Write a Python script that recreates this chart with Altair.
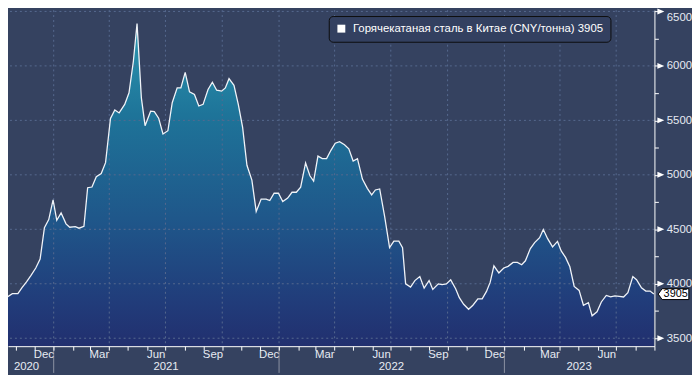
import altair as alt
import pandas as pd

# ---------------- data ----------------
series_name = "Горячекатаная сталь в Китае (CNY/тонна) 3905"

dates = [
    "2020-10-06", "2020-10-12", "2020-10-19", "2020-10-26", "2020-11-04", "2020-11-11",
    "2020-11-18", "2020-11-25", "2020-12-03", "2020-12-10", "2020-12-17", "2020-12-24",
    "2020-12-31", "2021-01-06", "2021-01-13", "2021-01-21", "2021-01-27", "2021-02-05",
    "2021-02-11", "2021-02-19", "2021-02-25", "2021-03-04", "2021-03-11", "2021-03-19",
    "2021-03-26", "2021-04-03", "2021-04-10", "2021-04-17", "2021-04-26", "2021-05-03",
    "2021-05-10", "2021-05-16", "2021-05-23", "2021-05-29", "2021-06-07", "2021-06-13",
    "2021-06-20", "2021-06-27", "2021-07-05", "2021-07-12", "2021-07-20", "2021-07-26",
    "2021-08-02", "2021-08-09", "2021-08-17", "2021-08-24", "2021-08-31", "2021-09-08",
    "2021-09-15", "2021-09-22", "2021-09-30", "2021-10-06", "2021-10-12", "2021-10-20",
    "2021-10-27", "2021-11-03", "2021-11-10", "2021-11-18", "2021-11-25", "2021-12-03",
    "2021-12-11", "2021-12-17", "2021-12-24", "2021-12-31", "2022-01-07", "2022-01-15",
    "2022-01-22", "2022-01-29", "2022-02-05", "2022-02-13", "2022-02-20", "2022-02-26",
    "2022-03-05", "2022-03-12", "2022-03-19", "2022-03-26", "2022-04-02", "2022-04-09",
    "2022-04-17", "2022-04-24", "2022-05-01", "2022-05-08", "2022-05-16", "2022-05-24",
    "2022-05-31", "2022-06-06", "2022-06-13", "2022-06-21", "2022-06-29", "2022-07-06",
    "2022-07-14", "2022-07-20", "2022-07-25", "2022-08-02", "2022-08-09", "2022-08-17",
    "2022-08-24", "2022-09-01", "2022-09-07", "2022-09-16", "2022-09-22", "2022-09-29",
    "2022-10-06", "2022-10-14", "2022-10-20", "2022-10-27", "2022-11-04", "2022-11-11",
    "2022-11-19", "2022-11-26", "2022-12-03", "2022-12-09", "2022-12-15", "2022-12-23",
    "2022-12-31", "2023-01-07", "2023-01-15", "2023-01-22", "2023-01-29", "2023-02-04",
    "2023-02-12", "2023-02-19", "2023-02-27", "2023-03-05", "2023-03-12", "2023-03-20",
    "2023-03-28", "2023-04-03", "2023-04-10", "2023-04-17", "2023-04-24", "2023-05-02",
    "2023-05-09", "2023-05-17", "2023-05-23", "2023-05-31", "2023-06-07", "2023-06-15",
    "2023-06-22", "2023-06-29", "2023-07-06", "2023-07-13", "2023-07-20", "2023-07-28",
    "2023-08-03", "2023-08-11", "2023-08-18", "2023-08-25", "2023-08-31",
]

values = [
    3860, 3902, 3884, 3909, 3909, 3966,
    4018, 4075, 4145, 4226, 4514, 4589,
    4770, 4583, 4650, 4550, 4519, 4525,
    4510, 4528, 4882, 4888, 4982, 5012,
    5112, 5517, 5596, 5568, 5647, 5753,
    6040, 6388, 5707, 5451, 5584, 5580,
    5520, 5375, 5405, 5662, 5798, 5798,
    5940, 5762, 5738, 5632, 5647, 5783,
    5850, 5777, 5768, 5798, 5883, 5822,
    5647, 5435, 5088, 4952, 4664, 4777,
    4777, 4764, 4831, 4831, 4755, 4786,
    4840, 4840, 4886, 5109, 4991, 4943,
    5172, 5149, 5149, 5225, 5290, 5305,
    5276, 5239, 5127, 5149, 4961, 4876,
    4816, 4861, 4870, 4619, 4332, 4392,
    4392, 4332, 3999, 3969, 4029, 4066,
    3960, 4029, 3948, 3999, 3993, 3999,
    4036, 3954, 3872, 3812, 3766, 3803,
    3861, 3861, 3930, 4015, 4165, 4099,
    4145, 4160, 4196, 4196, 4175, 4211,
    4323, 4378, 4423, 4498, 4414, 4338,
    4389, 4301, 4242, 4156, 3975, 3939,
    3803, 3827, 3706, 3743, 3833, 3893,
    3879, 3888, 3884, 3879, 3918, 4066,
    4038, 3963, 3933, 3933, 3905,
]

y_tick_values = [3500, 3750, 4000, 4250, 4500, 4750, 5000, 5250, 5500, 5750, 6000, 6250, 6500]
y_major = [3500, 4000, 4500, 5000, 5500, 6000, 6500]

quarter_grid = ["2021-01-01", "2021-04-01", "2021-07-01", "2021-10-01",
                "2022-01-01", "2022-04-01", "2022-07-01", "2022-10-01",
                "2023-01-01", "2023-04-01", "2023-07-01"]

month_label_dates = ["2020-12-16", "2021-03-16", "2021-06-16", "2021-09-16", "2021-12-16",
                     "2022-03-16", "2022-06-16", "2022-09-16", "2022-12-16",
                     "2023-03-16", "2023-06-16"]
month_label_text = ["Dec", "Mar", "Jun", "Sep", "Dec", "Mar", "Jun", "Sep", "Dec", "Mar", "Jun"]

year_label_dates = ["2020-11-18", "2021-07-02", "2022-07-02", "2023-05-02"]
year_label_text = ["2020", "2021", "2022", "2023"]
year_dividers = ["2021-01-01", "2022-01-01", "2023-01-01"]

month_ticks = [(2020, 11), (2020, 12)] + [(y, m) for y in (2021, 2022) for m in range(1, 13)] + \
              [(2023, m) for m in range(1, 10)]

# ---------------- styling ----------------
W, H = 654, 340
BG = "#354260"
GRID = "#56698f"
FONT = "Liberation Sans"
TXT = "#e6eaf2"

df = pd.DataFrame({"date": dates, "value": values, "series": series_name})

x_scale = alt.Scale(type="utc",
                    domain=[alt.DateTime(year=2020, month=10, date=19, utc=True),
                            alt.DateTime(year=2023, month=9, date=1, utc=True)])
y_scale = alt.Scale(domain=[3427, 6512], nice=False, zero=False)

x_axis = alt.Axis(values=[alt.DateTime(year=y, month=m, date=1, utc=True) for y, m in month_ticks],
                  labels=False, grid=False, tickSize=4, tickColor="white", tickWidth=1,
                  domainColor="white", domainWidth=1, title=None, zindex=1)
y_axis = alt.Axis(orient="right", values=y_tick_values, format="d",
                  labelExpr="datum.value % 500 == 0 ? datum.label : ''",
                  grid=False, tickSize=4, tickColor="white", domainColor="white",
                  labelColor=TXT, labelFont=FONT, labelFontSize=11.5, labelPadding=8,
                  labelAlign="left",
                  labelBaseline={"condition": {"test": "datum.value >= 6500", "value": "top"},
                                 "value": "middle"},
                  title=None, zindex=1)

X = alt.X("date:T", scale=x_scale, axis=x_axis, title=None)
Y = alt.Y("value:Q", scale=y_scale, axis=y_axis, title=None)

# gradient box of the area spans about twice its visible height, so the stops sit in [0, 0.5]
gradient = alt.Gradient(
    gradient="linear", x1=0, x2=0, y1=0, y2=1,
    stops=[alt.GradientStop(color="#2c98b1", offset=0),
           alt.GradientStop(color="#1e7499", offset=0.13),
           alt.GradientStop(color="#1f5589", offset=0.29),
           alt.GradientStop(color="#213c7a", offset=0.40),
           alt.GradientStop(color="#222868", offset=0.5),
           alt.GradientStop(color="#222868", offset=1)])

area = alt.Chart(df).mark_area(fill=gradient, opacity=1, clip=True).encode(
    x=X, y=Y, y2=alt.value(H))

hgrid = alt.Chart(pd.DataFrame({"value": y_major})).mark_rule(
    color=GRID, strokeDash=[2, 3], strokeWidth=1).encode(y=Y)
vgrid = alt.Chart(pd.DataFrame({"date": quarter_grid})).mark_rule(
    color=GRID, strokeDash=[2, 3], strokeWidth=1).encode(x=X)

line = alt.Chart(df).mark_line(strokeWidth=1.3, clip=True).encode(
    x=X, y=Y,
    color=alt.Color("series:N", scale=alt.Scale(range=["#f0f3f8"]),
                    legend=alt.Legend(orient="none", legendX=324.5, legendY=6, title=None,
                                      symbolType="square", symbolSize=64,
                                      symbolFillColor="#ffffff", symbolStrokeColor="#ffffff",
                                      symbolStrokeWidth=0,
                                      labelColor="#ffffff", labelFont=FONT, labelFontSize=11.5,
                                      labelLimit=600, labelOffset=6, padding=7,
                                      fillColor="#334060", strokeColor="#0d0d0d",
                                      cornerRadius=4)))

# symbol paths in pixel units (size=4 -> unit scale)
tri_path = "M -3.5 -3 L 3.5 0 L -3.5 3 Z"
markers = alt.Chart(pd.DataFrame({"value": y_major})).mark_point(
    shape=tri_path, filled=True, size=4, color="white", opacity=1).encode(
    x=alt.value(W + 6.5), y=Y)

month_lbl = alt.Chart(pd.DataFrame({"date": month_label_dates, "t": month_label_text})).mark_text(
    color=TXT, font=FONT, fontSize=11.5, baseline="middle", align="center").encode(
    x=X, y=alt.value(H + 8.7), text="t:N")
year_lbl = alt.Chart(pd.DataFrame({"date": year_label_dates, "t": year_label_text})).mark_text(
    color=TXT, font=FONT, fontSize=11.5, baseline="middle", align="center").encode(
    x=X, y=alt.value(H + 21), text="t:N")
year_div = alt.Chart(pd.DataFrame({"date": year_dividers})).mark_rule(
    color="#8c93a3", strokeWidth=1).encode(x=X, y=alt.value(H + 1), y2=alt.value(H + 27))

last = df.tail(1)
tag_path = "M -15.5 0 L -11.5 -5.5 L 15.5 -5.5 L 15.5 5.5 L -11.5 5.5 Z"
tag = alt.Chart(last).mark_point(shape=tag_path, filled=True, size=4, fill="white",
                                 stroke="black", strokeWidth=1, opacity=1).encode(
    x=alt.value(W + 19.3), y=Y)
tag_txt = alt.Chart(last).mark_text(color="black", font=FONT, fontSize=11,
                                    baseline="middle", align="center").encode(
    x=alt.value(W + 21.5), y=Y, text=alt.Text("value:Q", format="d"))

chart = alt.layer(area, hgrid, vgrid, line, year_div, month_lbl, year_lbl,
                  markers, tag, tag_txt).properties(
    width=W, height=H,
    autosize=alt.AutoSizeParams(type="none"),
    padding={"left": 0, "top": 0, "right": 38, "bottom": 27},
    background=BG,
).configure_view(stroke=None)

chart.save("out.html", embed_options={"renderer": "svg", "actions": False})
